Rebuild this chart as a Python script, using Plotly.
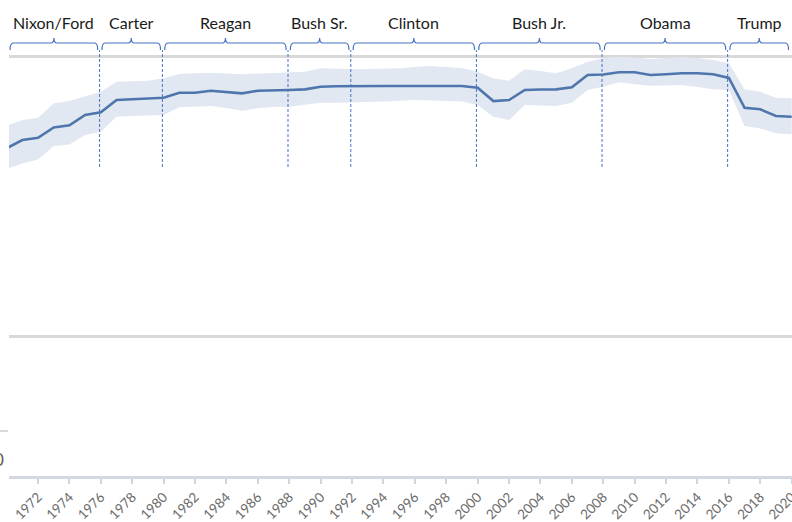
import plotly.graph_objects as go

years = list(range(1970, 2021))
share = [83.67, 85.13, 85.54, 87.40, 87.76, 89.61, 90.09, 92.29, 92.44, 92.56,
         92.71, 93.60, 93.60, 93.96, 93.73, 93.49, 93.96, 94.09, 94.09, 94.21,
         94.68, 94.75, 94.80, 94.80, 94.80, 94.80, 94.80, 94.80, 94.80, 94.80,
         94.50, 92.11, 92.29, 94.09, 94.18, 94.21, 94.57, 96.77, 96.86, 97.26,
         97.26, 96.77, 96.90, 97.08, 97.08, 96.90, 96.24, 90.91, 90.63, 89.43,
         89.30]
upper = [87.72, 88.71, 89.12, 91.70, 92.11, 93.01, 93.78, 95.57, 95.70, 95.75,
         96.18, 96.95, 97.08, 97.19, 97.04, 96.90, 97.04, 97.13, 97.19, 97.37,
         97.97, 97.85, 97.80, 97.85, 97.94, 97.97, 98.21, 98.39, 98.21, 98.03,
         97.37, 96.18, 95.75, 97.80, 97.49, 97.08, 97.97, 99.16, 99.77, 100.05,
         99.91, 99.64, 99.82, 99.95, 99.82, 99.46, 98.87, 94.21, 93.78, 92.71,
         92.60]
lower = [79.96, 80.95, 81.67, 84.05, 84.35, 86.02, 86.61, 89.30, 89.43, 89.52,
         89.61, 90.99, 91.04, 91.22, 90.86, 90.38, 90.81, 91.04, 91.09, 91.40,
         91.81, 91.81, 91.81, 91.94, 92.03, 92.11, 92.29, 92.20, 92.11, 92.03,
         91.40, 89.30, 88.71, 91.40, 91.31, 91.22, 91.81, 94.09, 94.68, 95.47,
         95.11, 94.86, 94.89, 94.98, 94.62, 94.21, 94.09, 87.63, 87.22, 86.33,
         86.15]

presidents = ["Nixon/Ford", "Carter", "Reagan", "Bush Sr.", "Clinton", "Bush Jr.", "Obama", "Trump"]
term_start = [1970, 1976, 1980, 1988, 1992, 2000, 2008, 2016]
term_end = [1976, 1980, 1988, 1992, 2000, 2008, 2016, 2020]

tick_years = list(range(1972, 2021, 2))
tick_text = [str(y) for y in tick_years]

X_MIN, X_MAX = 1970.15, 2020.02
BLUE = "#4472c4"

fig = go.Figure()
fig.add_trace(go.Scatter(x=years, y=upper, mode="lines", line=dict(width=0),
                         hoverinfo="skip", showlegend=False))
fig.add_trace(go.Scatter(x=years, y=lower, mode="lines", line=dict(width=0),
                         fill="tonexty", fillcolor="#e2e8f1",
                         hoverinfo="skip", showlegend=False))
fig.add_trace(go.Scatter(x=years, y=share, mode="lines",
                         line=dict(color="#4e76ac", width=2.6),
                         showlegend=False))

shapes = []
annotations = []
y_end, y_bar, y_tip = 1.0, 1.0164, 1.0282
d = 0.2
for name, s, e in zip(presidents, term_start, term_end):
    x0 = max(s, X_MIN) + 0.07
    x1 = e - 0.2
    mid = (x0 + x1) / 2
    path = (f"M {x0},{y_end} Q {x0},{y_bar} {x0+d},{y_bar} "
            f"L {mid-d},{y_bar} Q {mid},{y_bar} {mid},{y_tip} "
            f"Q {mid},{y_bar} {mid+d},{y_bar} "
            f"L {x1-d},{y_bar} Q {x1},{y_bar} {x1},{y_end}")
    shapes.append(dict(type="path", path=path, xref="x", yref="paper",
                       line=dict(color=BLUE, width=1.2)))
    annotations.append(dict(x=mid, y=1.0634, xref="x", yref="paper",
                            text=name, showarrow=False,
                            font=dict(family="Lato", size=16, color="#1a1a1a"),
                            xanchor="center", yanchor="middle"))

for b in term_start[1:]:
    shapes.append(dict(type="line", x0=b - 0.08, x1=b - 0.08, y0=0.7254, y1=1.0,
                       xref="x", yref="paper",
                       line=dict(color=BLUE, width=1, dash="3px,2px")))

# stray fragment of a neighbouring axis at the left edge
shapes.append(dict(type="line", x0=-9/783, x1=-1/783, y0=0.1056, y1=0.1056,
                   xref="paper", yref="paper", line=dict(color="#d9d9d9", width=2)))
annotations.append(dict(x=-0.0035, y=0.0376, xref="paper", yref="paper", text="0",
                        showarrow=False, xanchor="right", yanchor="middle",
                        font=dict(family="Lato", size=17, color="#595959")))

fig.update_layout(
    width=792, height=522,
    margin=dict(l=9, r=0, t=50, b=46),
    paper_bgcolor="white", plot_bgcolor="white",
    shapes=shapes, annotations=annotations,
    xaxis=dict(range=[X_MIN, X_MAX], tickvals=tick_years, ticktext=tick_text,
               tickangle=-45, ticks="outside", ticklen=5, tickcolor="#cdd6e3",
               tickwidth=1.5, showgrid=False, zeroline=False,
               showline=True, linecolor="#d3d9e2", linewidth=3,
               tickfont=dict(family="Lato", size=13.5, color="#6b6b6b"),
               ticklabeloverflow="allow", automargin=False),
    yaxis=dict(range=[25, 101.25], tickvals=[50, 100], showticklabels=False,
               showgrid=True, gridcolor="#d9d9d9", gridwidth=3,
               zeroline=False, showline=False, automargin=False),
)

fig.write_html("out.html", config={"displayModeBar": False},
               post_script="document.body.style.margin='0';document.body.style.overflow='hidden';")
